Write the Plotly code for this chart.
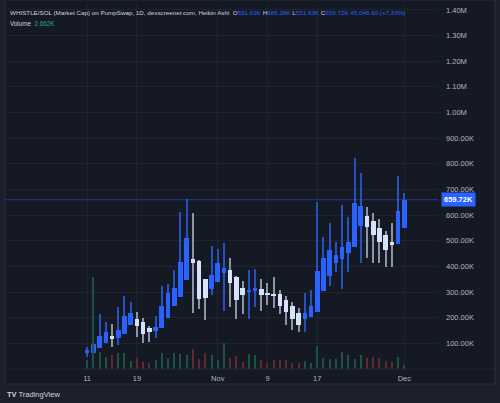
import pandas as pd
import plotly.graph_objects as go

# ---------------- data (market cap in thousands) ----------------
dates = pd.date_range("2025-10-11", "2025-12-01", freq="D")

opens = [62.4, 63.5, 80.7, 102.5, 128.7, 122.0, 136.5, 170.4, 193.8, 182.1,
         161.0, 149.3, 158.7, 200.0, 246.8, 279.5, 347.0, 428.8, 422.2, 349.7,
         310.7, 338.0, 375.4, 386.0, 359.8, 314.6, 301.4, 304.1, 310.7, 297.5,
         292.4, 291.2, 269.0, 245.6, 219.5, 196.1, 203.9, 223.4, 302.9, 362.6,
         414.4, 430.0, 451.1, 474.5, 557.5, 596.5, 577.0, 548.5, 522.4, 494.0,
         487.3, 551.63]
highs = [86.9, 110.0, 214.4, 184.4, 175.4, 240.5, 284.6, 261.2, 223.4, 198.8,
         167.6, 206.6, 323.6, 330.2, 386.0, 613.2, 661.6, 607.0, 424.0, 351.0,
         479.5, 466.7, 490.1, 431.6, 361.0, 344.2, 386.0, 388.7, 349.7, 336.5,
         357.5, 308.0, 284.6, 262.4, 236.6, 295.1, 308.0, 652.2, 515.8, 568.0,
         496.3, 641.3, 591.4, 821.4, 762.9, 632.7, 607.0, 583.6, 539.2, 568.0,
         752.4, 685.28]
lows = [48.0, 60.0, 80.7, 102.5, 84.6, 93.6, 136.5, 170.4, 125.9, 102.5,
        106.4, 119.7, 158.7, 200.0, 246.8, 279.5, 347.0, 219.5, 232.7, 191.0,
        288.5, 338.0, 227.3, 240.5, 193.8, 214.4, 193.8, 242.9, 227.3, 249.5,
        236.6, 214.4, 171.5, 152.0, 145.4, 145.4, 203.9, 223.4, 302.9, 323.6,
        378.2, 310.7, 379.3, 474.5, 412.1, 431.6, 414.4, 414.4, 398.8, 396.5,
        487.3, 551.63]
closes = [74.1, 97.5, 129.8, 145.4, 118.1, 152.0, 206.6, 218.3, 168.8, 136.5,
          143.1, 162.6, 245.6, 295.1, 314.6, 416.0, 509.5, 414.4, 271.7, 275.6,
          366.5, 414.4, 392.6, 336.5, 269.0, 288.5, 308.0, 314.6, 287.3, 288.0,
          287.3, 245.6, 222.2, 193.8, 171.5, 219.5, 245.6, 383.2, 431.6, 465.9,
          444.4, 475.6, 496.3, 646.0, 636.6, 554.8, 522.4, 496.3, 463.9, 482.3,
          614.67, 659.72]
volumes = [5.4, 55.0, 10.2, 7.2, 8.4, 9.6, 9.6, 4.8, 6.6, 4.2,
           3.6, 5.4, 9.6, 6.6, 9.6, 9.0, 8.4, 12.0, 6.0, 9.6,
           8.4, 5.4, 15.6, 6.6, 7.8, 4.2, 9.0, 8.4, 5.4, 3.6,
           5.4, 5.4, 5.4, 3.6, 3.6, 4.8, 3.6, 13.8, 6.6, 6.0,
           6.0, 10.2, 8.4, 6.0, 8.4, 6.6, 7.2, 6.6, 4.8, 4.2,
           7.2, 2.662]
volume_dir = [1, 1, 1, 1, -1, 1, 1, 1, -1, -1,
              -1, 1, 1, 1, 1, 1, 1, -1, -1, -1,
              1, 1, 1, -1, -1, -1, 1, 1, -1, -1,
              -1, -1, -1, -1, -1, 1, 1, 1, 1, 1,
              1, 1, 1, 1, 1, -1, -1, -1, -1, -1,
              1, 1]

y_tickvals = [100, 200, 300, 400, 500, 600, 700, 800, 900, 1000, 1100, 1200, 1300, 1400]
y_ticktext = ["100.00K", "200.00K", "300.00K", "400.00K", "500.00K", "600.00K", "700.00K",
              "800.00K", "900.00K", "1.00M", "1.10M", "1.20M", "1.30M", "1.40M"]
x_tickvals = ["2025-10-11", "2025-10-19", "2025-11-01", "2025-11-09", "2025-11-17", "2025-12-01"]
x_ticktext = ["11", "19", "Nov", "9", "17", "Dec"]

# ---------------- styling ----------------
CHART_BG = "#151924"
OUTER_BG = "#1c202b"
GRID = "#1f2431"
TEXT = "#b2b5be"
UP_BODY = "#2962ff"
UP_WICK = "#2750c0"
DN_BODY = "#d5e3fa"
DN_WICK = "#8c95a5"
VOL_UP = "#1d5249"
VOL_DN = "#62272f"
FONT = "Liberation Sans"
DAY = 86400000

up = [c >= o for o, c in zip(opens, closes)]
body_base = [min(o, c) for o, c in zip(opens, closes)]
body_len = [max(abs(c - o), 3.0) for o, c in zip(opens, closes)]
wick_len = [h - l for h, l in zip(highs, lows)]

fig = go.Figure()

# volume (overlay axis)
fig.add_trace(go.Bar(
    x=dates, y=volumes, yaxis="y2", width=0.17 * DAY,
    marker=dict(color=[VOL_UP if d > 0 else VOL_DN for d in volume_dir], line=dict(width=0)),
    hoverinfo="skip", showlegend=False))

# wicks
fig.add_trace(go.Bar(
    x=dates, y=wick_len, base=lows, width=0.17 * DAY,
    marker=dict(color=[UP_WICK if u else DN_WICK for u in up], line=dict(width=0)),
    hoverinfo="skip", showlegend=False))

# bodies
fig.add_trace(go.Bar(
    x=dates, y=body_len, base=body_base, width=0.74 * DAY,
    marker=dict(color=[UP_BODY if u else DN_BODY for u in up], line=dict(width=0)),
    hoverinfo="skip", showlegend=False))

last_close = closes[-1]

plot_w = 500 - 5 - 62
plot_h = 403 - 5 - 34


def px_x(px):
    return (px - 5) / plot_w


def px_y(py):
    return (369 - py) / plot_h


shapes = [
    dict(type="rect", xref="paper", yref="paper", x0=px_x(5), x1=px_x(495),
         y0=px_y(384), y1=px_y(0), fillcolor=CHART_BG,
         line=dict(color="#2a2e39", width=1), layer="below"),
    dict(type="line", xref="paper", yref="paper", x0=px_x(5), x1=px_x(495),
         y0=px_y(369), y1=px_y(369), line=dict(color="#232734", width=1)),
    dict(type="line", xref="paper", yref="y", x0=0, x1=1, y0=last_close, y1=last_close,
         line=dict(color="rgba(41,98,255,0.45)", width=1)),
]

title_txt = ("<span style='color:#d1d4dc'>WHISTLE/SOL (Market Cap) on PumpSwap, 1D, dexscreener.com, Heikin Ashi</span>"
             "  <span style='color:#d1d4dc'>O</span><span style='color:#2962ff'>%.2fK</span>"
             " <span style='color:#d1d4dc'>H</span><span style='color:#2962ff'>%.2fK</span>"
             " <span style='color:#d1d4dc'>L</span><span style='color:#2962ff'>%.2fK</span>"
             " <span style='color:#d1d4dc'>C</span><span style='color:#2962ff'>%.2fK 45,046.60 (+7.33%%)</span>"
             % (opens[-1], highs[-1], lows[-1], closes[-1]))
vol_txt = ("<span style='color:#d1d4dc'>Volume</span>  "
           "<span style='color:#22ab94'>%.3fK</span>" % volumes[-1])

annotations = [
    dict(xref="paper", yref="paper", x=px_x(8), y=px_y(12), xanchor="left", yanchor="middle",
         text=title_txt, showarrow=False, font=dict(family=FONT, size=6.25, color="#d1d4dc")),
    dict(xref="paper", yref="paper", x=px_x(8), y=px_y(23), xanchor="left", yanchor="middle",
         text=vol_txt, showarrow=False, font=dict(family=FONT, size=6.3, color="#d1d4dc")),
    dict(xref="paper", yref="y", x=1, y=last_close, xanchor="left", yanchor="middle", xshift=3,
         text="<b>%.2fK</b>" % last_close, showarrow=False, bgcolor="#2962ff", borderpad=2,
         font=dict(family=FONT, size=7.5, color="#ffffff")),
    dict(xref="paper", yref="paper", x=px_x(5), y=px_y(394), xanchor="left", yanchor="middle",
         text="<b>TV</b> TradingView", showarrow=False,
         font=dict(family=FONT, size=7.5, color="#d1d4dc")),
]

fig.update_layout(
    width=500, height=403,
    margin=dict(l=5, r=62, t=5, b=34),
    paper_bgcolor=OUTER_BG, plot_bgcolor=CHART_BG,
    barmode="overlay", bargap=0,
    showlegend=False,
    font=dict(family=FONT, size=7.5, color=TEXT),
    xaxis=dict(
        type="date",
        range=["2025-09-27 19:00", "2025-12-06 10:00"],
        tickmode="array", tickvals=x_tickvals, ticktext=x_ticktext,
        showgrid=True, gridcolor=GRID, gridwidth=1,
        zeroline=False, showline=False, ticks="",
        ticklabelstandoff=3,
        tickfont=dict(family=FONT, size=7.5, color=TEXT),
        fixedrange=True,
    ),
    yaxis=dict(
        range=[0, plot_h * 100 / 25.65],
        side="right",
        tickmode="array", tickvals=y_tickvals, ticktext=y_ticktext,
        showgrid=True, gridcolor=GRID, gridwidth=1,
        zeroline=False, showline=False, ticks="",
        ticklabelstandoff=7,
        tickfont=dict(family=FONT, size=7.5, color=TEXT),
        fixedrange=True,
    ),
    yaxis2=dict(
        overlaying="y", range=[0, plot_h * 0.6], visible=False, fixedrange=True,
    ),
    shapes=shapes,
    annotations=annotations,
)

fig.write_html("out.html")
